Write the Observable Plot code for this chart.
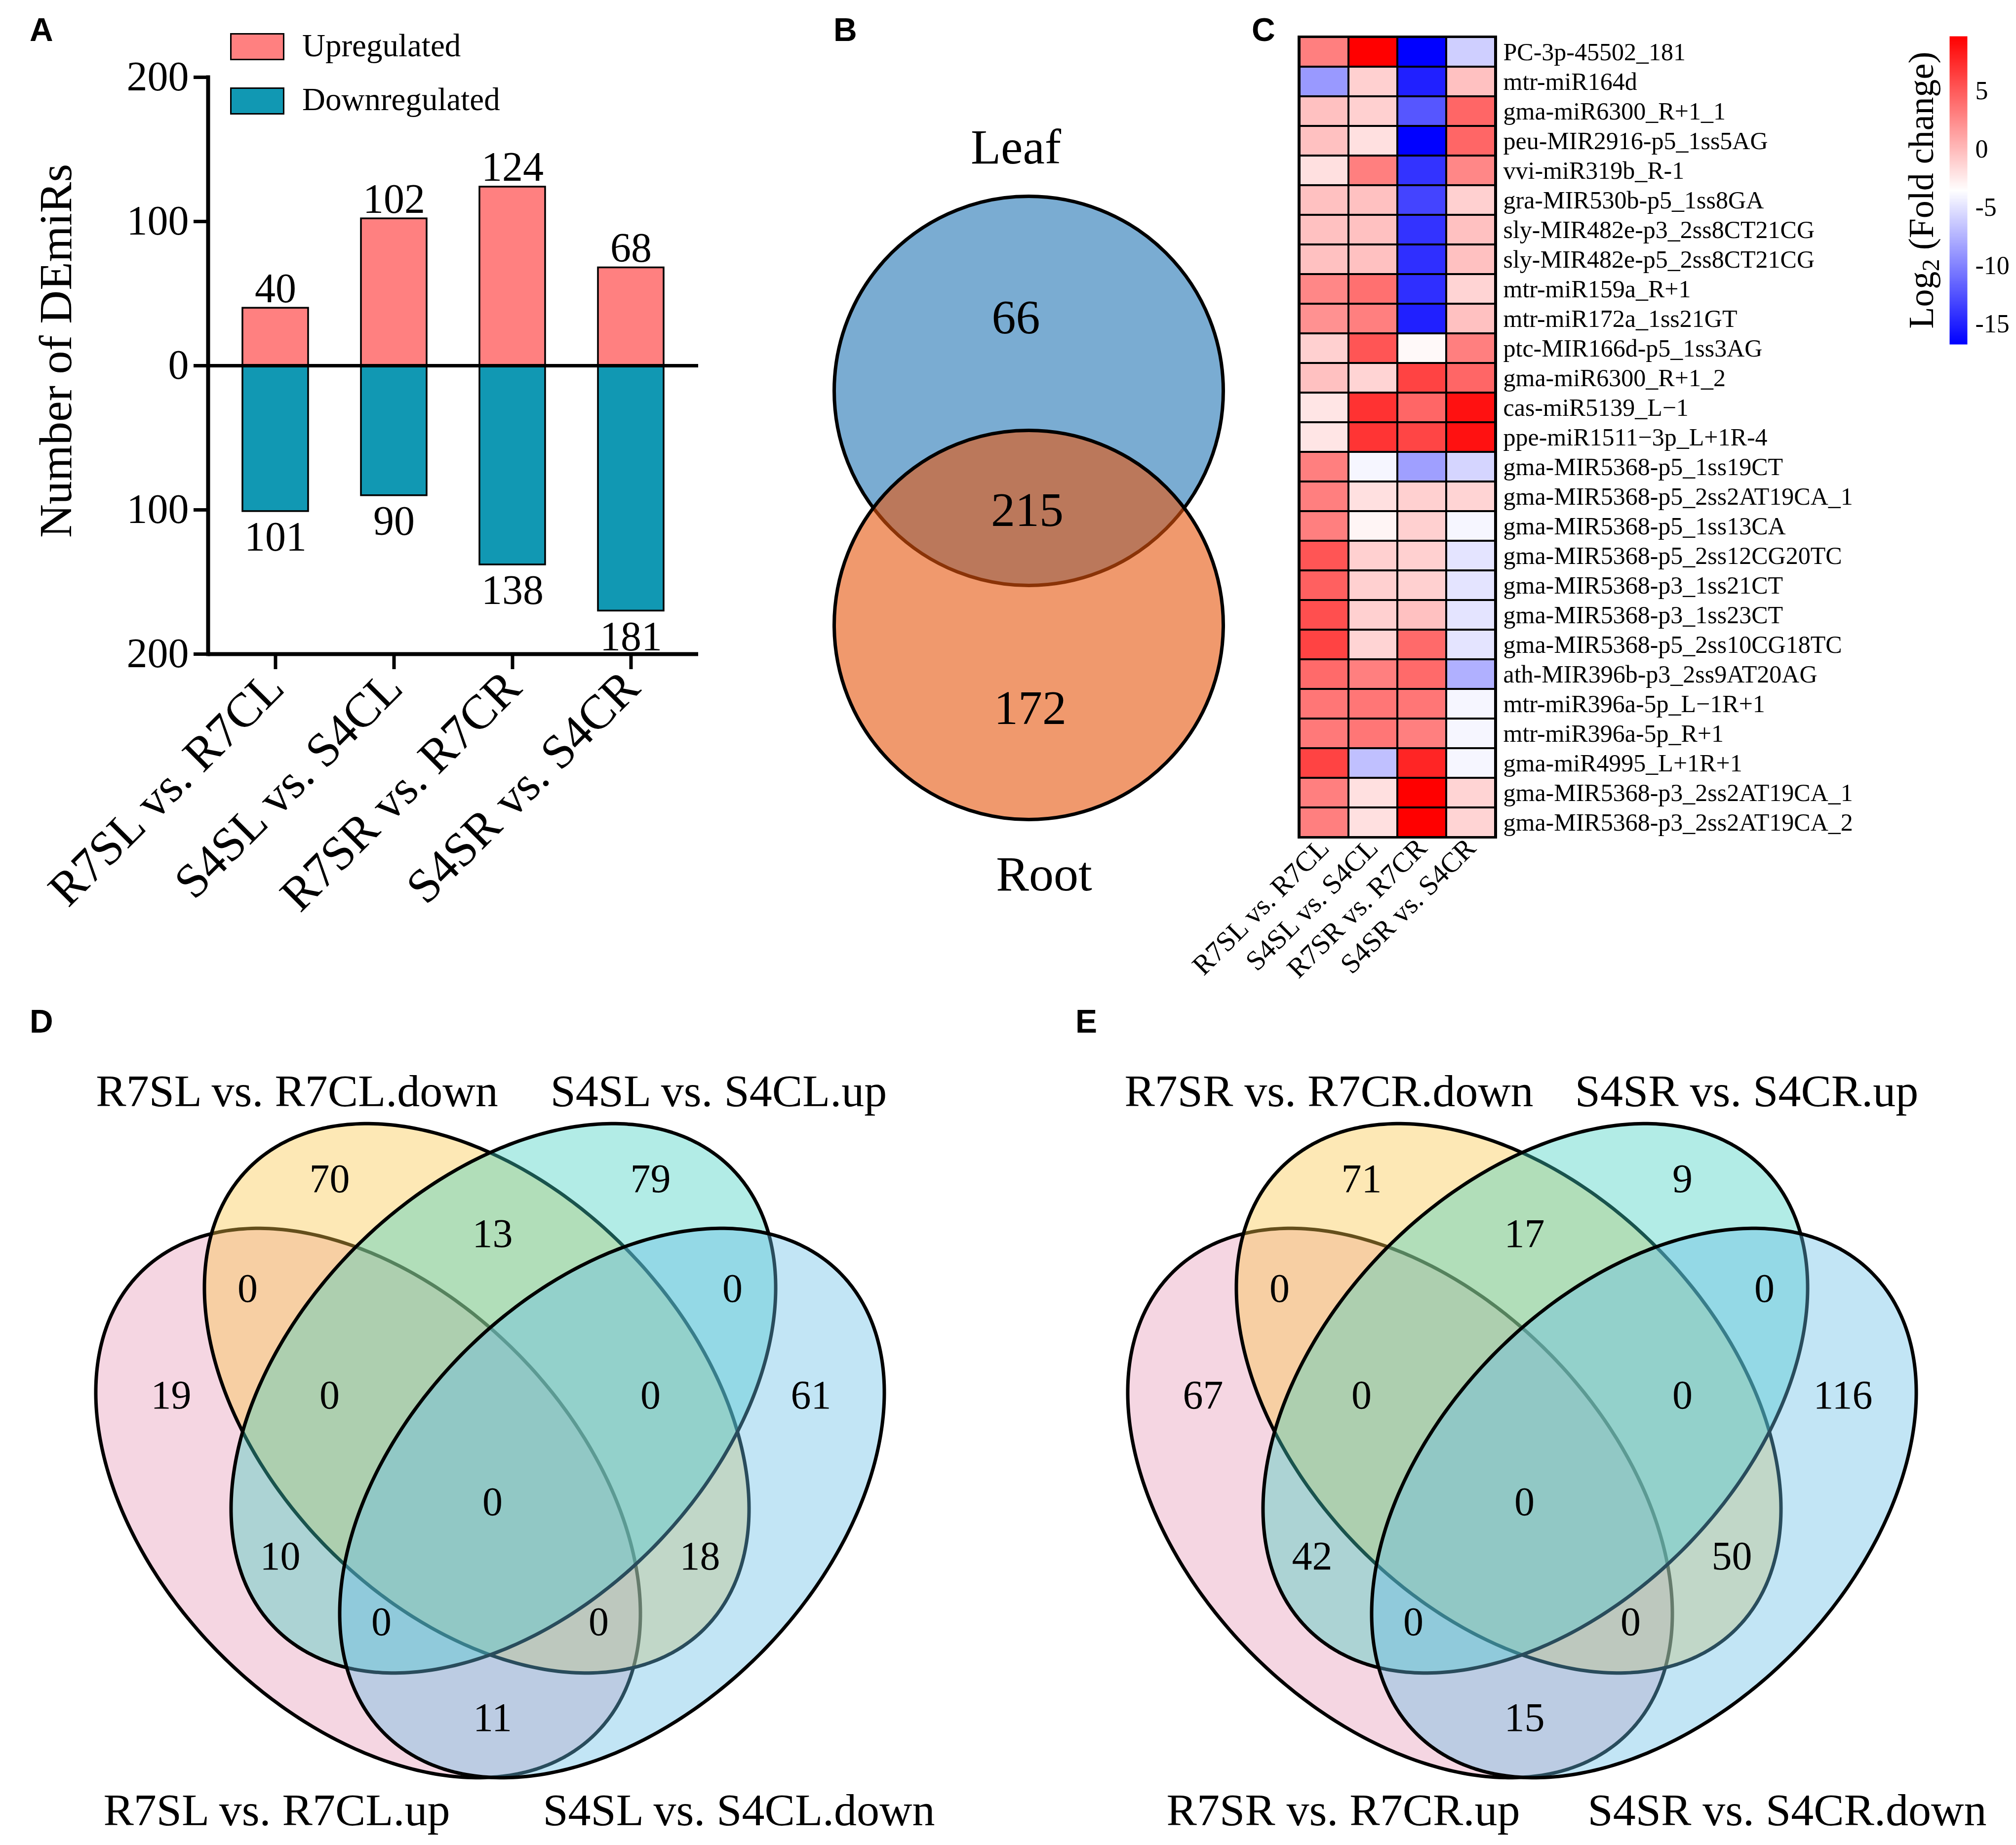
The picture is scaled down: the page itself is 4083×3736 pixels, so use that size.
<!DOCTYPE html>
<html><head><meta charset="utf-8">
<script src="https://cdn.jsdelivr.net/npm/d3@7"></script>
<script src="https://cdn.jsdelivr.net/npm/@observablehq/plot@0.6"></script>
<style>
html,body{margin:0;padding:0;background:#fff;}
#page{position:relative;width:4083px;height:3736px;overflow:hidden;background:#fff;font-family:"Liberation Serif","Times New Roman",serif;color:#000;}
.panel{position:absolute;}
.panel svg{max-width:none !important;}
.letter{position:absolute;font-family:"Liberation Sans",Arial,sans-serif;font-weight:bold;font-size:66px;line-height:1;}
.legtext{position:absolute;font-size:65px;line-height:1;white-space:nowrap;}
.swatch{position:absolute;box-sizing:border-box;border:3px solid #000;width:110px;height:55px;}
</style></head><body><div id="page"></div>
<script>
// ---------------- DATA ----------------
// Panel A
const comparisons = ["R7SL vs. R7CL", "S4SL vs. S4CL", "R7SR vs. R7CR", "S4SR vs. S4CR"];
const upregulated = [40, 102, 124, 68];
const downregulated = [101, 90, 138, 181];      // printed values
const downBarDrawn = [101, 90, 138, 170];       // bar length as drawn in the figure
const barTicks = [-200, -100, 0, 100, 200];
const legendItems = ["Upregulated", "Downregulated"];

// Panel B
const vennBSets = ["Leaf", "Root"];
const vennBCounts = [66, 215, 172];             // leaf only, both, root only

// Panel C
const mirnas = [
  "PC-3p-45502_181", "mtr-miR164d", "gma-miR6300_R+1_1", "peu-MIR2916-p5_1ss5AG",
  "vvi-miR319b_R-1", "gra-MIR530b-p5_1ss8GA", "sly-MIR482e-p3_2ss8CT21CG", "sly-MIR482e-p5_2ss8CT21CG",
  "mtr-miR159a_R+1", "mtr-miR172a_1ss21GT", "ptc-MIR166d-p5_1ss3AG", "gma-miR6300_R+1_2",
  "cas-miR5139_L\u22121", "ppe-miR1511\u22123p_L+1R-4", "gma-MIR5368-p5_1ss19CT", "gma-MIR5368-p5_2ss2AT19CA_1",
  "gma-MIR5368-p5_1ss13CA", "gma-MIR5368-p5_2ss12CG20TC", "gma-MIR5368-p3_1ss21CT", "gma-MIR5368-p3_1ss23CT",
  "gma-MIR5368-p5_2ss10CG18TC", "ath-MIR396b-p3_2ss9AT20AG", "mtr-miR396a-5p_L\u22121R+1", "mtr-miR396a-5p_R+1",
  "gma-miR4995_L+1R+1", "gma-MIR5368-p3_2ss2AT19CA_1", "gma-MIR5368-p3_2ss2AT19CA_2"
];
const fcR7L = [3.1,-8.8,-0.3,-0.3,-1.9,-0.3,-0.3,-0.3,2.7,2.2,-1.1,-0.3,-2.2,-2.2,3.1,3.1,3.1,5.3,4.7,5.6,6.2,4.2,3.6,3.4,6.2,3.1,3.1];
const fcS4L = [9.7,-1.1,-1.1,-1.9,3.1,-0.3,-0.3,-0.3,3.9,3.1,5.3,-1.3,7.1,7.0,-4.0,-1.9,-3.0,-1.1,-1.1,-1.1,-1.3,3.1,3.6,3.6,-6.8,-1.9,-1.9];
const fcR7R = [-16.7,-15.1,-12.3,-16.7,-14.1,-13.2,-14.1,-14.3,-14.3,-15.1,-3.2,6.2,4.4,6.1,-8.5,-1.1,-1.1,-1.1,-1.1,-0.3,4.2,4.2,3.6,3.1,7.8,9.7,9.7];
const fcS4R = [-6.0,-0.3,4.4,4.4,2.7,-1.1,-0.3,-0.3,-1.3,-0.3,3.1,4.4,8.8,8.8,-5.7,-1.3,-4.0,-4.9,-4.9,-4.9,-4.9,-7.6,-4.0,-4.0,-4.0,-1.3,-1.3];
const colorTicks = [5, 0, -5, -10, -15];
const colorMin = -16.75, colorMax = 9.7;

// Panels D and E (region order below)
const regionKeys = ["A","B","C","D","AB","BC","CD","ABC","BCD","ABCD","AC","BD","ACD","ABD","AD"];
const vennDSets = ["R7SL vs. R7CL.up", "R7SL vs. R7CL.down", "S4SL vs. S4CL.up", "S4SL vs. S4CL.down"];
const vennDCounts = [19, 70, 79, 61, 0, 13, 0, 0, 0, 0, 10, 18, 0, 0, 11];
const vennESets = ["R7SR vs. R7CR.up", "R7SR vs. R7CR.down", "S4SR vs. S4CR.up", "S4SR vs. S4CR.down"];
const vennECounts = [67, 71, 9, 116, 0, 17, 0, 0, 0, 0, 42, 50, 0, 0, 15];

// ---------------- LAYOUT / STYLE ----------------
const serif = "Liberation Serif";
const page = document.getElementById("page");
function place(node, left, top, w, h) {
  const d = document.createElement("div");
  d.className = "panel";
  d.style.left = left + "px"; d.style.top = top + "px";
  if (w) d.style.width = w + "px";
  if (h) d.style.height = h + "px";
  d.appendChild(node);
  page.appendChild(d);
}
function pagePlot(left, top, width, height, marks, extra = {}) {
  const svg = Plot.plot({
    width, height, margin: 0,
    x: {domain: [left, left + width], range: [0, width], axis: null},
    y: {domain: [top, top + height], range: [0, height], axis: null},
    style: {fontFamily: serif, background: "transparent", color: "black", overflow: "visible"},
    marks, ...extra
  });
  place(svg, left, top, width, height);
}
const colorScale = {type: "linear", domain: [colorMin, (colorMin + colorMax) / 2, colorMax],
  range: ["#0000ff", "#ffffff", "#ff0000"], interpolate: "rgb"};

// ---------------- PANEL A ----------------
const barData = comparisons.map((c, i) => ({c, up: upregulated[i], down: downBarDrawn[i], downLabel: downregulated[i]}));
const upColor = "#ff8080", downColor = "#1198b3";
place(Plot.plot({
  width: 1500, height: 1950,
  marginLeft: 421, marginRight: 86, marginTop: 156, marginBottom: 626,
  x: {domain: comparisons, paddingInner: 0.444, paddingOuter: 0.286, axis: null},
  y: {domain: [-200, 200], axis: null},
  style: {fontFamily: serif, background: "transparent", color: "black", overflow: "visible"},
  marks: [
    Plot.barY(barData, {x: "c", y: "up", fill: upColor, stroke: "black", strokeWidth: 3.5}),
    Plot.barY(barData, {x: "c", y: d => -d.down, fill: downColor, stroke: "black", strokeWidth: 3.5}),
    Plot.ruleY([0], {stroke: "black", strokeWidth: 7}),
    Plot.ruleY([-200], {stroke: "black", strokeWidth: 8}),
    Plot.frame({anchor: "left", stroke: "black", strokeWidth: 8}),
    Plot.axisY({ticks: barTicks, tickFormat: d => String(Math.abs(d)), tickSize: 29, tickPadding: 10, fontSize: 84, strokeWidth: 7, label: null}),
    Plot.axisX({tickSize: 31, tickPadding: 20, tickRotate: -45, fontSize: 98, strokeWidth: 7, label: null}),
    Plot.text(barData, {x: "c", y: "up", text: d => String(d.up), lineAnchor: "bottom", dy: -12, fontSize: 84}),
    Plot.text(barData, {x: "c", y: d => -d.down, text: d => String(d.downLabel), lineAnchor: "top", dy: 20, fontSize: 84}),
    Plot.text(["Number of DEmiRs"], {text: d => d, frameAnchor: "left", textAnchor: "middle", rotate: -90, dx: -308, dy: -30, fontSize: 94})
  ]
}), 0, 0, 1500, 1950);
// legend
[[upColor, 67, 60], [downColor, 177, 169]].forEach(([col, sy, ty], i) => {
  const sw = document.createElement("div"); sw.className = "swatch";
  sw.style.left = "466px"; sw.style.top = sy + "px"; sw.style.background = col; page.appendChild(sw);
  const tx = document.createElement("div"); tx.className = "legtext";
  tx.style.left = "612px"; tx.style.top = ty + "px"; tx.textContent = legendItems[i]; page.appendChild(tx);
});

// ---------------- PANEL B ----------------
const layoutB = {cx: 2083, cy: [791, 1265], r: 394, fills: ["#2175b4", "#e6550c"],
  setLabel: [[2057, 298], [2114, 1770]], count: [[2057, 643], [2080, 1033], [2086, 1434]]};
pagePlot(1550, 0, 1050, 1850, [
  ...vennBSets.map((s, i) => Plot.dot([s], {x: () => layoutB.cx, y: () => layoutB.cy[i], r: layoutB.r,
    fill: layoutB.fills[i], fillOpacity: 0.6, stroke: "black", strokeWidth: 7})),
  Plot.text(vennBSets, {x: (d, i) => layoutB.setLabel[i][0], y: (d, i) => layoutB.setLabel[i][1], text: d => d, fontSize: 100}),
  Plot.text(vennBCounts, {x: (d, i) => layoutB.count[i][0], y: (d, i) => layoutB.count[i][1], text: d => String(d), fontSize: 98})
]);

// ---------------- PANEL C ----------------
const fcCols = [fcR7L, fcS4L, fcR7R, fcS4R];
const heatData = [];
mirnas.forEach((m, i) => comparisons.forEach((c, j) => heatData.push({m, c, v: fcCols[j][i]})));
place(Plot.plot({
  width: 1733, height: 2000, marginLeft: 280, marginRight: 1054, marginTop: 74, marginBottom: 305,
  x: {domain: comparisons, padding: 0, axis: null},
  y: {domain: mirnas, padding: 0, axis: null},
  color: colorScale,
  style: {fontFamily: serif, background: "transparent", color: "black", overflow: "visible"},
  marks: [
    Plot.cell(heatData, {x: "c", y: "m", fill: "v", stroke: "black", strokeWidth: 4}),
    Plot.frame({stroke: "black", strokeWidth: 5}),
    Plot.axisY({anchor: "right", tickSize: 0, tickPadding: 15, fontSize: 50, label: null}),
    Plot.axisX({anchor: "bottom", tickSize: 0, tickPadding: 12, tickRotate: -45, fontSize: 57, label: null})
  ]
}), 2350, 0, 1733, 2000);
// colour bar
place(Plot.plot({
  width: 283, height: 800, marginLeft: 148, marginRight: 99, marginTop: 73, marginBottom: 103,
  x: {domain: [0, 1], axis: null},
  y: {domain: [colorMin, colorMax], axis: null},
  color: colorScale,
  style: {fontFamily: serif, background: "transparent", color: "black", overflow: "visible"},
  marks: [
    Plot.raster({fill: (x, y) => y, x1: 0, x2: 1, y1: colorMin, y2: colorMax, width: 2, height: 600}),
    Plot.axisY({anchor: "right", ticks: colorTicks, tickFormat: d => String(d), tickSize: 0, tickPadding: 16, fontSize: 52, label: null})
  ]
}), 3800, 0, 283, 800);
{
  const t = document.createElement("div");
  t.style.cssText = "position:absolute;left:3895px;top:385px;transform:translate(-50%,-50%) rotate(-90deg);font-size:72px;line-height:1;white-space:nowrap;";
  t.innerHTML = "Log<sub style='font-size:0.7em;vertical-align:-0.25em'>2</sub> (Fold change)";
  page.appendChild(t);
}

// ---------------- PANELS D & E ----------------
const venn4 = {
  a: 656, b: 428,
  ellipses: [[-247, 212, 45.6], [-27, 0, 45.6], [27, 0, 134.4], [247, 212, 134.4]],
  fills: ["#e698b6", "#fac546", "#3fd0c1", "#67bee6"],
  regions: {A: [-646, -6], B: [-325, -444], C: [325, -444], D: [650, -6], AB: [-491, -222], BC: [5, -333],
    CD: [491, -222], ABC: [-325, -6], BCD: [325, -6], ABCD: [5, 210], AC: [-425, 320], BD: [425, 320],
    ACD: [-220, 453], ABD: [220, 453], AD: [5, 647]}
};
function ellipsePts(cx, cy, a, b, phiDeg) {
  const p = phiDeg * Math.PI / 180, c = Math.cos(p), s = Math.sin(p);
  return d3.range(360).map(i => {
    const t = 2 * Math.PI * i / 360, u = a * Math.cos(t), v = b * Math.sin(t);
    return {x: cx + u * c - v * s, y: cy + u * s + v * c};
  });
}
function drawVenn4(sets, counts, O, labelPos, left, width) {
  const marks = venn4.ellipses.map(([dx, dy, rot], i) =>
    Plot.line(ellipsePts(O[0] + dx, O[1] + dy, venn4.a, venn4.b, rot), {x: "x", y: "y", curve: "linear-closed",
      fill: venn4.fills[i], fillOpacity: 0.4, stroke: "black", strokeWidth: 7}));
  marks.push(Plot.text(counts, {x: (d, i) => O[0] + venn4.regions[regionKeys[i]][0],
    y: (d, i) => O[1] + venn4.regions[regionKeys[i]][1], text: d => String(d), fontSize: 82}));
  marks.push(Plot.text(sets, {x: (d, i) => labelPos[i][0], y: (d, i) => labelPos[i][1], text: d => d, fontSize: 92}));
  pagePlot(left, 2000, width, 1736, marks);
}
drawVenn4(vennDSets, vennDCounts, [992, 2831], [[560, 3666], [601, 2210], [1455, 2210], [1496, 3666]], 0, 2040);
drawVenn4(vennESets, vennECounts, [3082, 2831], [[2720, 3666], [2691, 2210], [3537, 2210], [3619, 3666]], 2040, 2043);

// ---------------- PANEL LETTERS ----------------
[["A", 60, 27], ["B", 1688, 27], ["C", 2535, 27], ["D", 60, 2035], ["E", 2178, 2035]].forEach(([L, x, y]) => {
  const d = document.createElement("div"); d.className = "letter";
  d.style.left = x + "px"; d.style.top = y + "px"; d.textContent = L; page.appendChild(d);
});
</script></body></html>
